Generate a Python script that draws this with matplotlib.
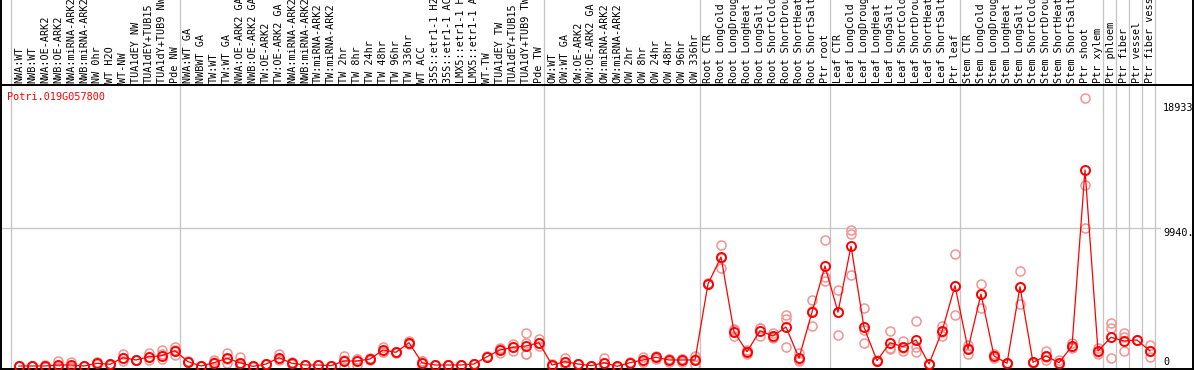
import numpy as np
import matplotlib
matplotlib.use("Agg")
import matplotlib.pyplot as plt

# Gene shown in the chart
GENE = "Potri.019G057800"

# Sample names (one column each)
sample_labels = [
    # NW group
    "NWA:WT", "NWB:WT", "NWA:OE-ARK2", "NWB:OE-ARK2", "NWA:miRNA-ARK2",
    "NWB:miRNA-ARK2", "NW 0hr", "WT H2O", "WT-NW", "TUA1dEY NW",
    "TUA1dEY+TUB15", "TUA1dY+TUB9 NW", "Pde NW",
    # TW group
    "NWA:WT GA", "NWBWT GA", "TW:WT", "TW:WT GA", "NWA:OE-ARK2 GA",
    "NWB:OE-ARK2 GA", "TW:OE-ARK2", "TW:OE-ARK2 GA", "NWA:miRNA-ARK2",
    "NWB:miRNA-ARK2", "TW:miRNA-ARK2", "TW:miRNA-ARK2", "TW 2hr", "TW 8hr",
    "TW 24hr", "TW 48hr", "TW 96hr", "TW 336hr", "WT ACC",
    "35S::etr1-1 H2O", "35S::etr1-1 ACC", "LMX5::etr1-1 H2O",
    "LMX5::etr1-1 ACC", "WT-TW", "TUA1dEY TW", "TUA1dEY+TUB15",
    "TUA1dY+TUB9 TW", "Pde TW",
    # OW group
    "OW:WT", "OW:WT GA", "OW:OE-ARK2", "OW:OE-ARK2 GA", "OW:miRNA-ARK2",
    "OW:miRNA-ARK2", "OW 2hr", "OW 8hr", "OW 24hr", "OW 48hr", "OW 96hr",
    "OW 336hr",
    # Root
    "Root CTR", "Root LongCold", "Root LongDrought", "Root LongHeat",
    "Root LongSalt", "Root ShortCold", "Root ShortDrought", "Root ShortHeat",
    "Root ShortSalt", "Ptr root",
    # Leaf
    "Leaf CTR", "Leaf LongCold", "Leaf LongDrought", "Leaf LongHeat",
    "Leaf LongSalt", "Leaf ShortCold", "Leaf ShortDrought", "Leaf ShortHeat",
    "Leaf ShortSalt", "Ptr leaf",
    # Stem
    "Stem CTR", "Stem LongCold", "Stem LongDrought", "Stem LongHeat",
    "Stem LongSalt", "Stem ShortCold", "Stem ShortDrought", "Stem ShortHeat",
    "Stem ShortSalt", "Ptr shoot", "Ptr xylem",
    # single tissues
    "Ptr phloem", "Ptr fiber", "Ptr vessel", "Ptr fiber vessel",
]

# How many columns each group has (gray separators between groups)
group_sizes = [13, 28, 12, 10, 10, 11, 1, 1, 1, 1]

# Mean expression per sample
mean_values = [
    36, 36, 36, 108, 108, 36, 230, 158, 633, 468, 705, 777, 1137,
    345, 36, 273, 590, 273, 10, 180, 633, 230, 108, 108, 58, 396, 396,
    540, 1187, 1021, 1712, 273, 108, 108, 108, 180, 705, 1187, 1381,
    1475, 1712,
    108, 345, 180, 58, 273, 15, 273, 468, 662, 468, 468, 468,
    5934, 7876, 2503, 1065, 2575, 2194, 2841, 611, 3899, 7229,
    3899, 8668, 2820, 417, 1712, 1424, 1906, 180, 2532, 5812,
    1259, 5215, 755, 230, 5740, 302, 755, 273, 1475, 14134, 1115,
    2100, 1834, 1906, 1115,
]

# Individual replicate values per sample
replicates = [
    [36, 20, 50], [36, 30, 40], [100, 0, 10], [396, 0, 0], [345, 0, 0],
    [40, 30, 40], [345, 200, 150], [158, 140, 180], [899, 590, 410],
    [468, 440, 500], [993, 468, 654], [1187, 899, 518], [1424, 1187, 800],
    [345, 320, 370], [36, 20, 50], [468, 0, 350], [993, 273, 504],
    [705, 0, 115], [10, 0, 20], [180, 160, 200], [899, 468, 532],
    [345, 180, 165], [108, 90, 120], [108, 90, 120], [58, 40, 70],
    [755, 0, 433], [520, 100, 568], [633, 468, 519], [1424, 1065, 1072],
    [1021, 1000, 1040], [1834, 1712, 1590], [0, 400, 420], [108, 90, 120],
    [108, 90, 120], [108, 90, 120], [180, 160, 200], [705, 690, 720],
    [1309, 993, 1260], [1618, 1137, 1390], [2388, 1712, 899, 900],
    [1957, 1712, 1467],
    [108, 50, 170], [590, 108, 337], [180, 150, 210], [58, 40, 70],
    [590, 0, 230], [0, 10, 30], [273, 250, 300], [705, 345, 354],
    [755, 518, 713], [345, 530, 530], [345, 530, 530], [755, 108, 541],
    [5934, 5900, 5970], [8740, 7085, 7800], [2625, 2194, 2690],
    [899, 1100, 1200], [2748, 2194, 2780], [2431, 2100, 2050],
    [3683, 3395, 1424], [950, 468, 415], [4783, 2913, 4000],
    [9107, 6459, 6150],
    [5502, 2244, 3950], [9800, 9531, 6582], [4186, 1669, 2600],
    [417, 380, 450], [2575, 1309, 1250], [1834, 1137, 1300],
    [3273, 1424, 1021], [180, 150, 210], [2913, 2194, 2490],
    [8092, 5812, 3705],
    [1547, 878, 1350], [5934, 5215, 4229], [878, 590, 800], [230, 200, 260],
    [6869, 5740, 4474], [302, 280, 330], [1137, 468, 660], [468, 180, 170],
    [1669, 1400, 1350], [19291, 13055, 9984], [1352, 1065, 930],
    [3107, 2748, 590], [2388, 2144, 1137], [1906, 1880, 1930],
    [1525, 705, 1115],
]

# Y axis ticks shown at the right side
y_ticks = [0, 9940, 18933]
y_tick_labels = ["0", "9940.", "18933"]


def plot_expression():
    W, H = 1194, 370
    fig = plt.figure(figsize=(W / 100, H / 100), dpi=100)
    fig.patch.set_facecolor("white")

    mono = "DejaVu Sans Mono"
    fsize = 7.3
    grid_gray = "#c4c4c4"
    px = 0.72  # one pixel in points

    # header box (labels) and plot box below it
    ax_head = fig.add_axes([1 / W, (H - 85) / H, 1192 / W, 85 / H])
    ax = fig.add_axes([1 / W, 1 / H, 1192 / W, 284 / H])

    # column i sits at pixel 19 + 13*i
    xlim = (-18 / 13, 1174 / 13)
    for a in (ax_head, ax):
        a.set_xlim(*xlim)
        a.set_xticks([])
        a.set_yticks([])
        for s in a.spines.values():
            s.set_linewidth(1.4)
            s.set_color("black")
    ax_head.spines["top"].set_visible(False)
    ax_head.set_ylim(0, 85)

    # value 0 at pixel 366.5, 9940 at pixel 228.3
    k = 138.2 / 9940
    ax.set_ylim(-(369 - 366.5) / k, (366.5 - 85) / k)

    # group separators
    bounds = np.concatenate([[0], np.cumsum(group_sizes)]) - 8 / 13
    for b in bounds:
        ax.axvline(b, color=grid_gray, lw=px * 1.3, zorder=1)
        ax_head.axvline(b, color=grid_gray, lw=px * 1.3, zorder=1)

    # middle gridline
    ax.axhline(y_ticks[1], xmin=0, xmax=1159 / 1192, color=grid_gray,
               lw=px * 1.3, zorder=1)

    # sample names, rotated
    for i, lab in enumerate(sample_labels):
        t = ax_head.text(i, 2, lab, rotation=90, ha="center", va="bottom",
                         fontsize=fsize, family=mono, color="black")
        t.set_clip_box(ax_head.bbox)
        t.set_clip_on(True)

    # replicates (light) then mean line and markers
    rx = [i for i, reps in enumerate(replicates) for _ in reps]
    ry = [v for reps in replicates for v in reps]
    ax.plot(rx, ry, linestyle="none", marker="o", ms=6.5, mfc="none",
            mec="#f29494", mew=1.1, zorder=2)
    xs = np.arange(len(mean_values))
    ax.plot(xs, mean_values, color="red", lw=0.9, zorder=3)
    ax.plot(xs, mean_values, linestyle="none", marker="o", ms=6.5,
            mfc="none", mec="red", mew=1.4, zorder=4)

    # y labels at the right, clipped by the frame
    offsets = [3.2, -3.2, -3.2]
    for v, lab, off in zip(y_ticks, y_tick_labels, offsets):
        t = ax.annotate(lab, xy=(88.0, v), xytext=(0, off),
                        textcoords="offset points", ha="left", va="center",
                        fontsize=fsize, family=mono, color="black")
        t.set_clip_box(ax.bbox)
        t.set_clip_on(True)

    # gene name
    ax.text(6 / 1192, (369 - 97) / 284, GENE, transform=ax.transAxes,
            ha="left", va="center", fontsize=fsize, family=mono, color="red")

    fig.savefig("out.png", dpi=100)


if __name__ == "__main__":
    plot_expression()
